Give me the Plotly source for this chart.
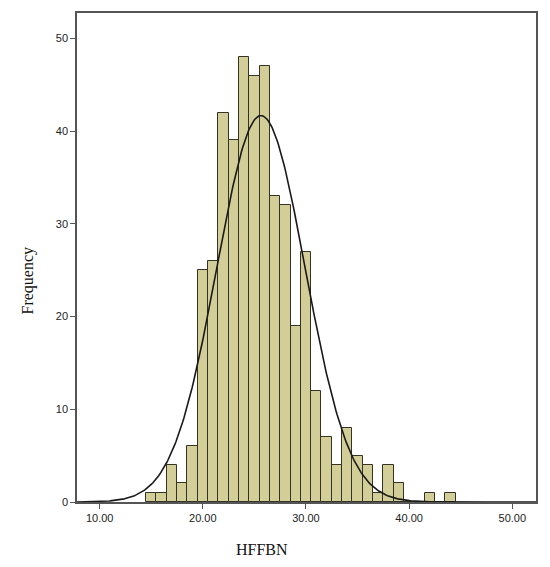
import numpy as np
import plotly.graph_objects as go

# histogram bins (centres, width 1) and counts
bin_centers = [15, 16, 17, 18, 19, 20, 21, 22, 23, 24, 25, 26, 27, 28, 29,
               30, 31, 32, 33, 34, 35, 36, 37, 38, 39, 40, 41, 42, 43, 44]
counts = [1, 1, 4, 2, 6, 25, 26, 42, 39, 48, 46, 47, 33, 32, 19,
          27, 12, 7, 4, 8, 5, 4, 1, 4, 2, 0, 0, 1, 0, 1]

x_tickvals = [10, 20, 30, 40, 50]
x_ticktext = ["10.00", "20.00", "30.00", "40.00", "50.00"]
y_tickvals = [0, 10, 20, 30, 40, 50]

bin_width = 1.0
x_range = [7.8, 52.3]
y_range = [0, 52.75]

# normal curve fitted from the binned data (as SPSS does)
c = np.array(bin_centers, dtype=float)
n = np.array(counts, dtype=float)
N = n.sum()
mean = (c * n).sum() / N
sd = np.sqrt(((c - mean) ** 2 * n).sum() / (N - 1))
xs = np.linspace(x_range[0], x_range[1], 400)
ys = N * bin_width * np.exp(-0.5 * ((xs - mean) / sd) ** 2) / (sd * np.sqrt(2 * np.pi))

fig = go.Figure()

fig.add_trace(
    go.Bar(
        x=bin_centers, y=counts, width=bin_width,
        marker=dict(color="#d3ce97", line=dict(color="#333326", width=1)),
        showlegend=False,
    )
)

fig.add_trace(
    go.Scatter(
        x=xs, y=ys, mode="lines",
        line=dict(color="#1a1a1a", width=1.6),
        showlegend=False, hoverinfo="skip",
    )
)

axis_style = dict(
    showline=True, linecolor="#555555", linewidth=1.5, mirror=True,
    showgrid=False, zeroline=False, automargin=False,
    ticks="outside", ticklen=5, tickcolor="#555555", tickwidth=1.2,
    tickfont=dict(family="Liberation Sans", size=11, color="#222222"),
)

title_font = dict(family="Liberation Serif", size=16, color="#111111")

# page body adds an 8px offset, so margins are shifted to compensate
fig.update_layout(
    width=550,
    height=567,
    margin=dict(l=69, r=22, t=5, b=73),
    paper_bgcolor="white",
    plot_bgcolor="white",
    bargap=0,
    xaxis=dict(range=x_range, tickvals=x_tickvals, ticktext=x_ticktext, **axis_style),
    yaxis=dict(range=y_range, tickvals=y_tickvals, **axis_style),
    annotations=[
        dict(text="HFFBN", xref="paper", yref="paper", x=0.403, y=0,
             yshift=-47, showarrow=False, font=title_font, yanchor="middle"),
        dict(text="Frequency", xref="paper", yref="paper", x=0, y=0.453,
             xshift=-49, showarrow=False, font=title_font, textangle=-90,
             xanchor="center", yanchor="middle"),
    ],
)

fig.write_html("out.html")
